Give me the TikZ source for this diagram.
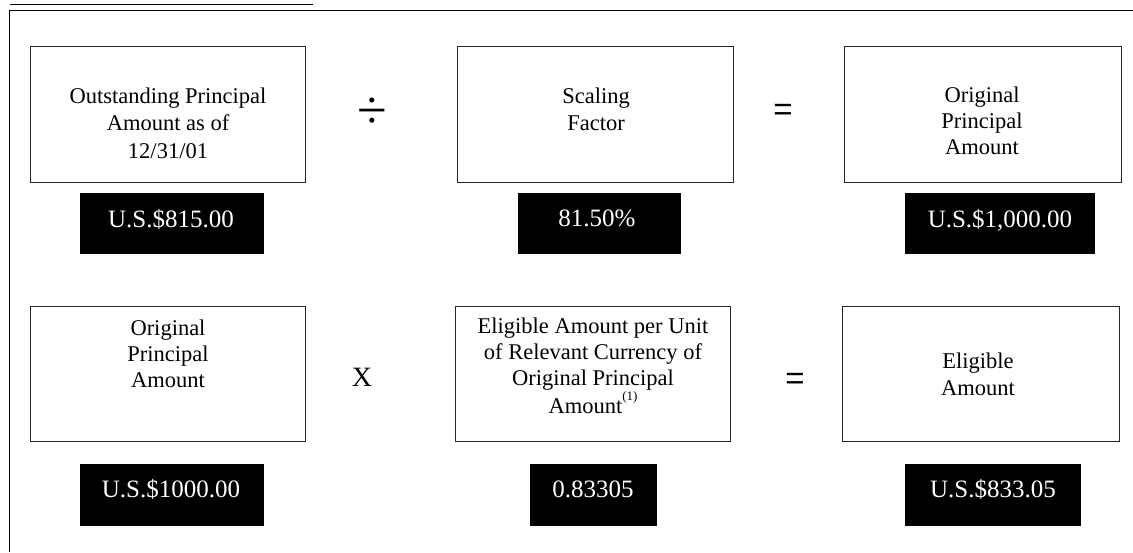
\documentclass[tikz,border=0pt]{standalone}
\usepackage{fontspec}
\setmainfont{Liberation Serif}
\newfontfamily\opsans{Liberation Sans}
\begin{document}
\begin{tikzpicture}[x=1pt,y=-1pt,
  box/.style={draw=black!85, line width=1pt, inner sep=0pt, minimum height=136pt},
  blk/.style={fill=black, draw=none, inner sep=0pt, minimum height=61pt},
  lbl/.style={anchor=base, align=center, inner sep=0pt, font=\fontsize{22.5}{#1}\selectfont},
  lbl/.default=26.5,
  val/.style={anchor=base, inner sep=0pt, text=white, font=\fontsize{25}{30}\selectfont},
  op/.style={anchor=center, inner sep=0pt, font=\fontsize{#1}{#1}\selectfont},
  op/.default=34,
  eqop/.style={anchor=center, inner sep=0pt, font=\opsans\fontsize{33}{33}\selectfont}]
\useasboundingbox (0,0) rectangle (1133,552);
% frame and title rule
\draw[line width=1pt] (9,552) -- (9,10.5) -- (1133,10.5);
\draw[line width=1.6pt] (10,4.5) -- (313,4.5);
% row 1 boxes
\node[box, minimum width=275pt] (b1) at (167.5,114) {};
\node[box, minimum width=276pt] (b2) at (595,114) {};
\node[box, minimum width=277pt] (b3) at (982.5,114) {};
% row 2 boxes
\node[box, minimum width=275pt, minimum height=135pt] (b4) at (167.5,373.5) {};
\node[box, minimum width=275pt, minimum height=135pt] (b5) at (592.5,373.5) {};
\node[box, minimum width=277pt, minimum height=135pt] (b6) at (980.5,373.5) {};
% black value boxes
\node[blk, minimum width=184pt] (k1) at (172,223.5) {};
\node[blk, minimum width=163pt] (k2) at (599.5,223.5) {};
\node[blk, minimum width=190pt] (k3) at (1000,223.5) {};
\node[blk, minimum width=184pt, minimum height=62pt] (k4) at (172,495) {};
\node[blk, minimum width=127pt, minimum height=62pt] (k5) at (593.5,495) {};
\node[blk, minimum width=176pt, minimum height=62pt] (k6) at (993,495) {};
% box texts (anchored at the baseline of the last line)
\node[lbl=27.5] (t1) at (168,158) {Outstanding Principal\\Amount as of\\12/31/01};
\node[lbl=27] (t2) at (596,130) {Scaling\\Factor};
\node[lbl=26] (t3) at (982,154) {Original\\Principal\\Amount};
\node[lbl=26] (t4) at (168,387) {Original\\Principal\\Amount};
\node[lbl=26] (t5) at (593,413) {Eligible Amount per Unit\\of Relevant Currency of\\Original Principal\\Amount\raisebox{0.55em}{\fontsize{13}{13}\selectfont(1)}};
\node[lbl=27] (t6) at (978,395) {Eligible\\Amount};
% values
\node[val] (v1) at (171,227) {U.S.\$815.00};
\node[val] (v2) at (597,226) {81.50\%};
\node[val] (v3) at (1000,227) {U.S.\$1,000.00};
\node[val] (v4) at (171,497) {U.S.\$1000.00};
\node[val] (v5) at (593,497) {0.83305};
\node[val] (v6) at (993,497) {U.S.\$833.05};
% operators
\node[op=54] (o1) at (372,113) {÷};
\node[eqop] (o2) at (783,112) {=};
\node[op=28] (o3) at (362,377) {X};
\node[eqop] (o4) at (795,381) {=};
\end{tikzpicture}
\end{document}
